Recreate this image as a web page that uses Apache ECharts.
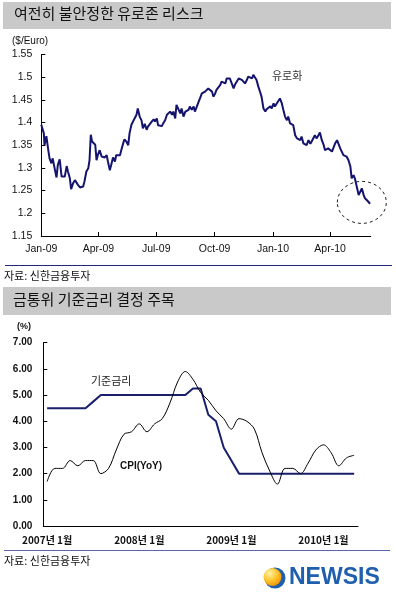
<!DOCTYPE html>
<html><head><meta charset="utf-8">
<script src="https://cdn.jsdelivr.net/npm/echarts@6/dist/echarts.min.js"></script>
<style>html,body{margin:0;padding:0;background:#fff}#c{width:396px;height:600px}</style>
</head><body><div id="c"></div>
<script>
// ---------- Chart 1: EUR/USD ----------
const euroBaseDate = '2009-01-01';
const euroEndDay = 519;
const euroDays = [0,4,5,8,11,13,16,18,21,24,26,29,32,34,37,40,42,45,47,50,53,55,58,61,63,66,68,71,74,76,78,80,83,85,87,89,92,95,97,100,103,105,108,110,113,116,118,121,124,126,129,131,134,137,139,142,145,147,150,152,155,158,160,163,166,168,
171,174,177,179,182,184,187,190,192,195,198,200,203,206,208,211,213,216,219,221,224,227,229,232,234,237,240,242,245,248,250,253,255,258,261,263,266,269,271,274,276,279,282,284,287,290,292,295,297,300,303,305,308,311,313,316,318,321,324,326,329,332,334,337,339,342,
345,347,350,353,355,358,361,363,366,368,371,374,376,379,382,384,387,389,392,395,397,400,403,405,408,410,413,416,418,421,424,426,429,431,434,437,439,442,445,447,450,452,455,458,460,463,466,468,471,473,476,479,481,484,487,489,492,494,497,500,502,505,508,510,513,515,518];
const euroValues = [1.395,1.376,1.350,1.370,1.339,1.321,1.310,1.321,1.299,1.279,1.306,1.319,1.281,1.284,1.281,1.304,1.292,1.277,1.253,1.266,1.273,1.270,1.262,1.257,1.254,1.259,1.270,1.292,1.299,1.317,1.373,1.358,1.356,1.351,1.317,1.328,1.339,1.325,1.328,1.323,1.328,1.314,1.295,1.306,1.323,1.314,1.328,1.331,1.328,1.339,1.354,1.363,1.358,1.350,1.376,1.395,1.391,1.409,1.417,1.431,1.413,1.404,1.387,1.397,1.384,1.391,
1.389,1.402,1.407,1.402,1.409,1.394,1.397,1.392,1.398,1.405,1.417,1.420,1.424,1.417,1.424,1.409,1.439,1.435,1.420,1.431,1.413,1.424,1.420,1.428,1.435,1.428,1.435,1.424,1.435,1.446,1.453,1.464,1.461,1.468,1.464,1.475,1.479,1.468,1.457,1.464,1.472,1.475,1.483,1.490,1.494,1.486,1.497,1.501,1.497,1.486,1.475,1.483,1.486,1.497,1.501,1.494,1.497,1.486,1.494,1.501,1.503,1.497,1.505,1.508,1.494,1.479,
1.466,1.457,1.431,1.424,1.429,1.426,1.436,1.431,1.442,1.435,1.442,1.446,1.453,1.442,1.424,1.413,1.405,1.413,1.398,1.394,1.394,1.372,1.365,1.369,1.361,1.369,1.354,1.358,1.350,1.361,1.353,1.358,1.361,1.372,1.365,1.369,1.378,1.361,1.350,1.339,1.336,1.343,1.347,1.336,1.339,1.354,1.361,1.358,1.343,1.339,1.328,1.332,1.325,1.317,1.303,1.277,1.284,1.277,1.259,1.240,1.237,1.255,1.240,1.233,1.229,1.226,1.221];
const euroTickDates = ['2009-01-01','2009-04-01','2009-07-01','2009-10-01','2010-01-01','2010-04-01'];
const euroTickLabels = ['Jan-09','Apr-09','Jul-09','Oct-09','Jan-10','Apr-10'];
const euroCircleCenter = [505, 1.224]; // [day, value] of the dashed highlight

// ---------- Chart 2: base rate & CPI ----------
const rateMonths = ['2007-01','2007-02','2007-03','2007-04','2007-05','2007-06','2007-07','2007-08','2007-09','2007-10','2007-11','2007-12',
'2008-01','2008-02','2008-03','2008-04','2008-05','2008-06','2008-07','2008-08','2008-09','2008-10','2008-11','2008-12',
'2009-01','2009-02','2009-03','2009-04','2009-05','2009-06','2009-07','2009-08','2009-09','2009-10','2009-11','2009-12',
'2010-01','2010-02','2010-03','2010-04','2010-05'];
const baseRate = [4.5,4.5,4.5,4.5,4.5,4.5,4.75,5,5,5,5,5, 5,5,5,5,5,5,5,5.25,5.25,4.25,4,3, 2.5,2,2,2,2,2,2,2,2,2,2,2, 2,2,2,2,2];
const cpi = [1.7,2.2,2.2,2.5,2.3,2.5,2.5,2.0,2.2,2.9,3.5,3.6, 3.9,3.6,3.9,4.1,4.7,5.5,5.9,5.6,5.1,4.8,4.4,4.1, 3.7,4.1,4.0,3.7,2.8,2.1,1.6,2.2,2.2,2.0,2.4,2.9, 3.1,2.8,2.3,2.6,2.7];

const DAY = 86400000;
const t0 = new Date(euroBaseDate).getTime();
const euroData = euroDays.map((d, i) => [d, euroValues[i]]);
const euroTicks = euroTickDates.map(s => Math.round((new Date(s).getTime() - t0) / DAY));

const FONT = '"Liberation Sans", Arial, sans-serif';
const KFONT = '"Noto Sans CJK KR", "Noto Sans", sans-serif';

const chart = echarts.init(document.getElementById('c'), null, {renderer: 'canvas'});
chart.setOption({
  animation: false,
  backgroundColor: '#ffffff',
  textStyle: {fontFamily: FONT},
  grid: [
    {left: 41.3, top: 54.4, width: 329.4, height: 181.6},
    {left: 43.3, top: 342.7, width: 314.7, height: 183.3}
  ],
  xAxis: [
    {
      type: 'value', gridIndex: 0,
      min: 0, max: euroEndDay,
      axisLine: {lineStyle: {color: '#000', width: 1}},
      axisTick: {inside: true, length: 4, customValues: euroTicks, lineStyle: {color: '#000'}},
      axisLabel: {customValues: euroTicks, margin: 8, fontSize: 10.5, color: '#111', fontFamily: FONT,
        formatter: v => { const i = euroTicks.indexOf(Math.round(v)); return i >= 0 ? euroTickLabels[i] : ''; }},
      splitLine: {show: false}
    },
    {
      type: 'category', gridIndex: 1, data: rateMonths, boundaryGap: true,
      axisLine: {lineStyle: {color: '#000', width: 1}},
      axisTick: {inside: true, length: 5, interval: 11, lineStyle: {color: '#000'}},
      axisLabel: {interval: 11, margin: 9, fontSize: 10, fontWeight: 'bold', color: '#111', fontFamily: KFONT,
        formatter: v => { const p = v.split('-'); return p[0] + '년 ' + parseInt(p[1], 10) + '월'; }},
      splitLine: {show: false}
    }
  ],
  yAxis: [
    {
      type: 'value', gridIndex: 0, min: 1.15, max: 1.55, interval: 0.05,
      axisLine: {show: true, lineStyle: {color: '#000', width: 1}},
      axisTick: {show: true, inside: true, length: 4, lineStyle: {color: '#000'}},
      axisLabel: {margin: 9, fontSize: 10.5, color: '#111', fontFamily: FONT},
      splitLine: {show: false}
    },
    {
      type: 'value', gridIndex: 1, min: 0, max: 7, interval: 1,
      axisLine: {show: true, lineStyle: {color: '#000', width: 1}},
      axisTick: {show: true, inside: true, length: 4, lineStyle: {color: '#000'}},
      axisLabel: {margin: 11, fontSize: 10, fontWeight: 'bold', color: '#111', fontFamily: FONT,
        formatter: v => v.toFixed(2)},
      splitLine: {show: false}
    }
  ],
  series: [
    {type: 'line', name: '유로화', xAxisIndex: 0, yAxisIndex: 0, data: euroData,
      showSymbol: false, symbol: 'none', lineStyle: {color: '#14146e', width: 2}},
    {type: 'line', name: '기준금리', xAxisIndex: 1, yAxisIndex: 1, data: baseRate,
      showSymbol: false, symbol: 'none', lineStyle: {color: '#1a1f6b', width: 2}},
    {type: 'line', name: 'CPI(YoY)', xAxisIndex: 1, yAxisIndex: 1, data: cpi, smooth: 0.35,
      showSymbol: false, symbol: 'none', lineStyle: {color: '#000', width: 1}}
  ]
});

const cc = chart.convertToPixel({xAxisIndex: 0, yAxisIndex: 0}, euroCircleCenter);

chart.setOption({
  graphic: [
    {type: 'rect', left: 3, top: 2, shape: {width: 388, height: 27}, style: {fill: '#c9c9c9'}, z: 0},
    {type: 'text', left: 14, top: 6, style: {text: '여전히 불안정한 유로존 리스크', font: '15px ' + KFONT, fill: '#111'}},
    {type: 'rect', left: 3, top: 287, shape: {width: 388, height: 28}, style: {fill: '#c9c9c9'}, z: 0},
    {type: 'text', left: 13, top: 292, style: {text: '금통위 기준금리 결정 주목', font: '15px ' + KFONT, fill: '#111'}},
    {type: 'text', left: 12, top: 36, style: {text: '($/Euro)', font: '10px ' + FONT, fill: '#111'}},
    {type: 'text', left: 17, top: 322, style: {text: '(%)', font: 'bold 9px ' + FONT, fill: '#111'}},
    {type: 'text', left: 272, top: 70, style: {text: '유로화', font: '11px ' + KFONT, fill: '#333'}},
    {type: 'text', left: 91, top: 375, style: {text: '기준금리', font: '11px ' + KFONT, fill: '#222'}},
    {type: 'text', left: 120, top: 461, style: {text: 'CPI(YoY)', font: 'bold 10px ' + FONT, fill: '#111'}},
    {type: 'ellipse', shape: {cx: cc[0], cy: cc[1], rx: 24.5, ry: 21},
      style: {fill: 'none', stroke: '#222', lineWidth: 1, lineDash: [3, 3]}},
    {type: 'line', shape: {x1: 5, y1: 265.5, x2: 392, y2: 265.5}, style: {stroke: '#1f2a78', lineWidth: 1}},
    {type: 'text', left: 4, top: 270, style: {text: '자료: 신한금융투자', font: '11px ' + KFONT, fill: '#111'}},
    {type: 'line', shape: {x1: 4, y1: 550.5, x2: 390, y2: 550.5}, style: {stroke: '#5c64b0', lineWidth: 1}},
    {type: 'text', left: 4, top: 555, style: {text: '자료: 신한금융투자', font: '11px ' + KFONT, fill: '#111'}},
    {type: 'circle', shape: {cx: 275, cy: 578, r: 10.5}, style: {fill: '#1f5fae'}},
    {type: 'circle', shape: {cx: 272.5, cy: 577, r: 9}, style: {fill: {type: 'radial', x: 0.35, y: 0.3, r: 0.8,
      colorStops: [{offset: 0, color: '#fff3a8'}, {offset: 0.5, color: '#ffc62e'}, {offset: 1, color: '#ef8a00'}]}}},
    {type: 'text', left: 289, top: 566, style: {text: 'NEWSIS', font: 'bold 23px ' + FONT, fill: '#1f5fae'}}
  ]
});
</script></body></html>
